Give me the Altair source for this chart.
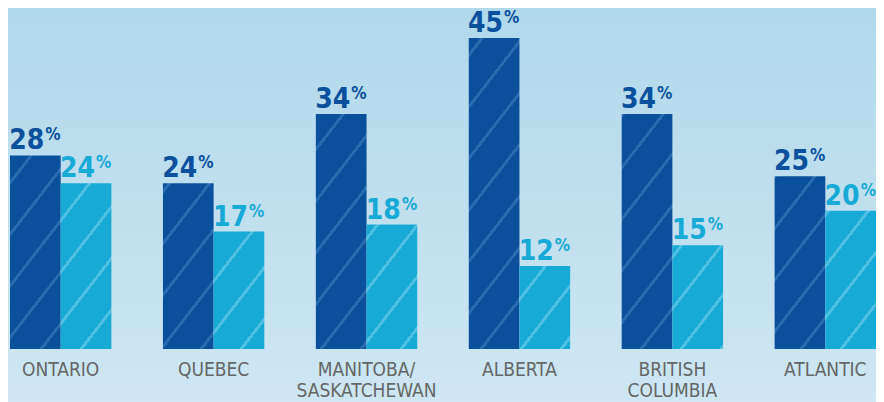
import math
import altair as alt
import pandas as pd

regions = ["ONTARIO", "QUEBEC", "MANITOBA/|SASKATCHEWAN", "ALBERTA", "BRITISH|COLUMBIA", "ATLANTIC"]
series = ["A", "B"]
values_a = [28, 24, 34, 45, 34, 25]
values_b = [24, 17, 18, 12, 15, 20]

rows = []
for r, a, b in zip(regions, values_a, values_b):
    rows.append({"region": r, "series": "A", "value": a})
    rows.append({"region": r, "series": "B", "value": b})
df = pd.DataFrame(rows)
df_reg = pd.DataFrame({"region": regions})

DARK = "#0a509c"
LIGHT = "#18aad6"
STRIPE = {"A": "#2a6aae", "B": "#4ec0e3"}
BASE = {"A": DARK, "B": LIGHT}
FONT = "DejaVu Sans Condensed, Liberation Sans Narrow, sans-serif"
W, H = 866, 341
YMAX = 49.34
PAD_IN = 0.337

xscale = alt.Scale(domain=regions, paddingInner=PAD_IN, paddingOuter=0)
xenc = alt.X("region:N", sort=regions, title=None, scale=xscale, axis=None)
xoff = alt.XOffset("series:N", scale=alt.Scale(domain=series, paddingInner=0, paddingOuter=0))
yenc = alt.Y("value:Q", scale=alt.Scale(domain=[0, YMAX], nice=False, zero=True),
             axis=None)
col = alt.Color("series:N", scale=alt.Scale(domain=series, range=[DARK, LIGHT]), legend=None)

bg = alt.Chart(pd.DataFrame({"a": [0]})).mark_rect(
    clip=False,
    color=alt.Gradient(gradient="linear", x1=0, y1=0, x2=0, y2=1,
                       stops=[alt.GradientStop(color="#afd8eb", offset=0),
                              alt.GradientStop(color="#d0e7f3", offset=1)])
).encode(x=alt.value(-10), x2=alt.value(W + 10), y=alt.value(-10), y2=alt.value(H + 70))

base = alt.Chart(df).encode(x=xenc, xOffset=xoff, y=yenc)

# diagonal stripe texture (decoration only) built as a repeating linear gradient
K = 1.29          # slope of the stripes
PERIOD = 51.6     # stripe spacing (in stripe-function units)
HALF = 2.4        # half stripe thickness
PHI = 20.0
step = W / (len(regions) - PAD_IN)
bar_w = step * (1 - PAD_IN) / 2


def stripe_gradient(s, v, i, j):
    h = v * H / YMAX
    w = bar_w
    X = i * step + j * w
    Y = H - h
    fmax = K * w + h
    c = fmax / (K * K * w * w + h * h)
    g0 = K * X + Y
    stops = [alt.GradientStop(color=BASE[s], offset=0)]
    n = math.floor((g0 - PHI - HALF) / PERIOD)
    while True:
        center = PHI + n * PERIOD - g0
        lo, hi = center - HALF, center + HALF
        n += 1
        if lo > fmax:
            break
        if hi < 0:
            continue
        lo_t = round(max(0.0, lo / fmax), 5)
        hi_t = round(min(1.0, hi / fmax), 5)
        stops += [alt.GradientStop(color=BASE[s], offset=lo_t),
                  alt.GradientStop(color=STRIPE[s], offset=lo_t),
                  alt.GradientStop(color=STRIPE[s], offset=hi_t),
                  alt.GradientStop(color=BASE[s], offset=hi_t)]
    stops.append(alt.GradientStop(color=BASE[s], offset=1))
    return alt.Gradient(gradient="linear", x1=0, y1=0,
                        x2=round(c * K * w, 5), y2=round(c * h, 5), stops=stops)


bar_layers = []
for i, r in enumerate(regions):
    for j, (s, v) in enumerate(zip(series, [values_a[i], values_b[i]])):
        bar_layers.append(
            base.transform_filter((alt.datum.region == r) & (alt.datum.series == s))
            .mark_bar(color=stripe_gradient(s, v, i, j))
        )

num = base.mark_text(font=FONT, fontSize=28, fontWeight="bold", align="right",
                     baseline="alphabetic", dx=9, dy=-6).encode(
    text=alt.Text("value:Q"), color=col)
pct = base.mark_text(font=FONT, fontSize=17, fontWeight="bold", align="left",
                     baseline="alphabetic", dx=10, dy=-15).encode(
    text=alt.value("%"), color=col)

labels = alt.Chart(df_reg).mark_text(
    font=FONT, fontSize=19, color="#666666", align="center",
    baseline="alphabetic", lineBreak="|", lineHeight=21
).encode(x=xenc, y=alt.value(H + 27), text="region:N")

chart = alt.layer(bg, *bar_layers, num, pct, labels).properties(
    width=W, height=H,
    autosize=alt.AutoSizeParams(type="none"),
    padding={"left": 2, "top": 0, "right": 0, "bottom": 53},
    background="#c0e0ef",
).configure_view(stroke=None)

chart.save("out.html", embed_options={"renderer": "svg", "actions": False})
